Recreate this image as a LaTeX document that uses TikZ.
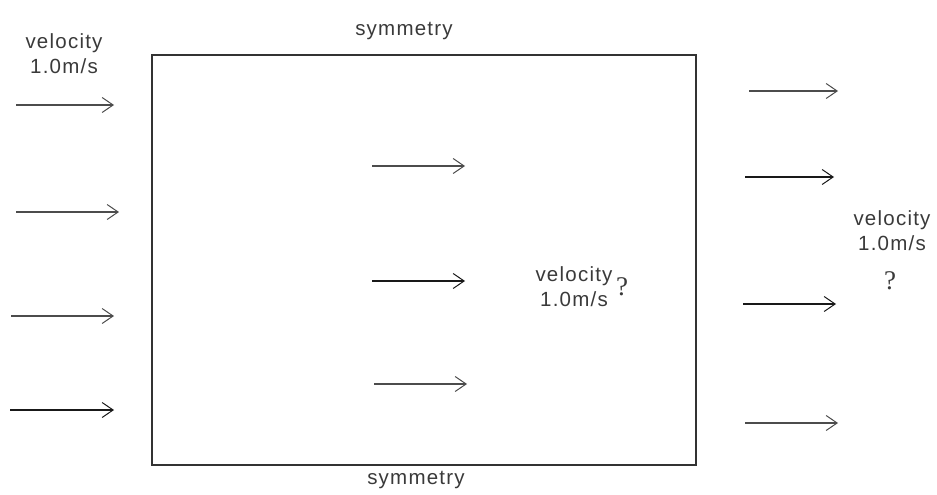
\documentclass[tikz,border=0pt]{standalone}
\usepackage{fontspec}
\setmainfont{Liberation Sans}[LetterSpace=6]
\newfontfamily\qfont{Liberation Serif}
\usetikzlibrary{arrows.meta}
\definecolor{txt}{HTML}{3A3A3A}
\tikzset{
  flowarrow/.style={line width=1.2pt, draw=black!70, -{Straight Barb[length=11pt,width=15pt,line width=1pt]}},
  flowdark/.style={flowarrow, draw=black!90},
  lbl/.style={inner sep=0pt, text=txt, font=\fontsize{20.5}{25}\selectfont, align=center},
  qmark/.style={inner sep=0pt, text=txt, font=\qfont\fontsize{27}{30}\selectfont},
  flowbox/.style={draw=black!80, line width=2pt}
}
\begin{document}
\begin{tikzpicture}[x=1pt,y=-1pt]
\useasboundingbox (0,0) rectangle (937,495);
\fill[white] (0,0) rectangle (937,495);
% domain
\node[flowbox, minimum width=544pt, minimum height=410pt, inner sep=0pt, anchor=north west] (box) at (151,54) {};
% labels
\node[lbl] (inlbl) at (64,54) {velocity\\1.0m/s};
\node[lbl] (symtop) at (404,31) {symmetry};
\node[lbl] (symbot) at (416,480) {symmetry};
\node[lbl] (midlbl) at (574,287) {velocity\\1.0m/s};
\node[qmark] (midq) at (622,287) {?};
\node[lbl] (outlbl) at (892,231) {velocity\\1.0m/s};
\node[qmark] (outq) at (890,281) {?};
% inlet arrows
\coordinate (i1s) at (16,105);  \coordinate (i1e) at (114,105);
\coordinate (i2s) at (16,212);  \coordinate (i2e) at (119,212);
\coordinate (i3s) at (11,316);  \coordinate (i3e) at (114,316);
\coordinate (i4s) at (10,410);  \coordinate (i4e) at (114,410);
\draw[flowarrow] (i1s) -- (i1e);
\draw[flowarrow] (i2s) -- (i2e);
\draw[flowarrow] (i3s) -- (i3e);
\draw[flowdark]  (i4s) -- (i4e);
% interior arrows
\coordinate (m1s) at (372,166); \coordinate (m1e) at (465,166);
\coordinate (m2s) at (372,281); \coordinate (m2e) at (465,281);
\coordinate (m3s) at (374,384); \coordinate (m3e) at (467,384);
\draw[flowarrow] (m1s) -- (m1e);
\draw[flowdark]  (m2s) -- (m2e);
\draw[flowarrow] (m3s) -- (m3e);
% outlet arrows
\coordinate (o1s) at (749,91);  \coordinate (o1e) at (838,91);
\coordinate (o2s) at (745,177); \coordinate (o2e) at (834,177);
\coordinate (o3s) at (743,304); \coordinate (o3e) at (836,304);
\coordinate (o4s) at (745,423); \coordinate (o4e) at (838,423);
\draw[flowarrow] (o1s) -- (o1e);
\draw[flowdark]  (o2s) -- (o2e);
\draw[flowdark]  (o3s) -- (o3e);
\draw[flowarrow] (o4s) -- (o4e);
\end{tikzpicture}
\end{document}
